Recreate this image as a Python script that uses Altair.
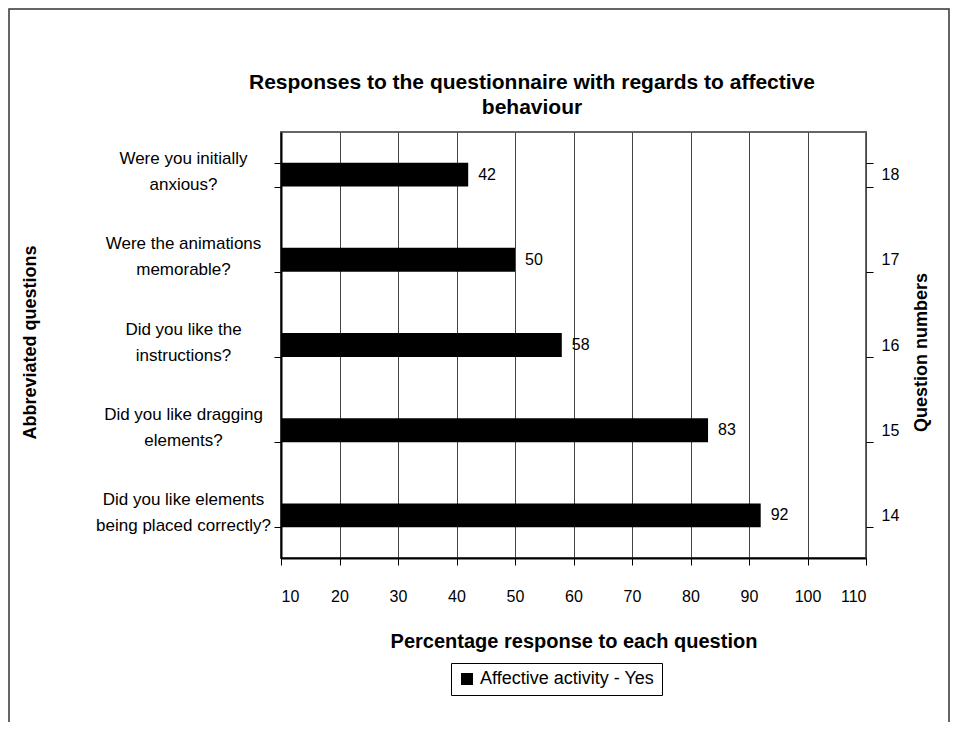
import json
import altair as alt
import pandas as pd

# ---- data ----
title_lines = ["Responses to the questionnaire with regards to affective", "behaviour"]
question_numbers = [18, 17, 16, 15, 14]
question_labels = [
    ["Were you initially", "anxious?"],
    ["Were the animations", "memorable?"],
    ["Did you like the", "instructions?"],
    ["Did you like dragging", "elements?"],
    ["Did you like elements", "being placed correctly?"],
]
percent_yes = [42, 50, 58, 83, 92]
series_name = "Affective activity - Yes"
x_ticks = [10, 20, 30, 40, 50, 60, 70, 80, 90, 100, 110]

FONT = "Liberation Sans"
W, H = 585, 426

df = pd.DataFrame({
    "qnum": question_numbers,
    "value": percent_yes,
    "series": [series_name] * len(percent_yes),
})

label_expr = " : ".join(
    f"datum.value == {n} ? {json.dumps(lines)}" for n, lines in zip(question_numbers, question_labels)
) + " : ''"

y_scale = alt.Scale(domain=question_numbers, paddingInner=0.72, paddingOuter=0.36)
x_scale = alt.Scale(domain=[10, 110], nice=False, zero=False)

bars = alt.Chart(df).mark_bar(color="black").encode(
    x=alt.X("value:Q", scale=x_scale,
            axis=alt.Axis(values=x_ticks, title="Percentage response to each question",
                          grid=True, gridColor="#444", gridWidth=1,
                          domainColor="black", domainWidth=2, tickColor="black", tickSize=7,
                          labelFont=FONT, labelFontSize=16, labelPadding=23, labelColor="black",
                          titleFont=FONT, titleFontSize=20, titleFontWeight="bold", titleColor="black",
                          titleX=W / 2, titleY=83, titleBaseline="middle", titleAlign="center")),
    x2=alt.datum(10),
    y=alt.Y("qnum:O", scale=y_scale, sort=question_numbers,
            axis=alt.Axis(orient="left", tickBand="extent", tickSize=7, tickColor="black",
                          domainColor="black", domainWidth=2,
                          labelExpr=label_expr, labelAlign="center", labelBaseline="middle",
                          labelPadding=91, labelLineHeight=26, labelOffset=-16, labelLimit=400,
                          labelFont=FONT, labelFontSize=17, labelColor="black",
                          title="Abbreviated questions", titleFont=FONT, titleFontSize=18,
                          titleFontWeight="bold", titleColor="black", titleAngle=270,
                          titleX=-251, titleY=210, titleAlign="center", titleBaseline="middle")),
    color=alt.Color("series:N", scale=alt.Scale(domain=[series_name], range=["black"]),
                    legend=alt.Legend(orient="none", legendX=170, legendY=531, title=None,
                                      strokeColor="black", padding=7, symbolType="square",
                                      symbolSize=144, symbolStrokeWidth=0, labelLimit=400,
                                      labelFont=FONT, labelFontSize=18, labelColor="black")),
)

labels = alt.Chart(df).mark_text(align="left", baseline="middle", dx=10, font=FONT,
                                 fontSize=16, color="black").encode(
    x=alt.X("value:Q", scale=x_scale),
    y=alt.Y("qnum:O", scale=y_scale, sort=question_numbers,
            axis=alt.Axis(orient="right", tickBand="extent", tickSize=7, tickColor="black",
                          domain=False, labelPadding=8,
                          labelFont=FONT, labelFontSize=16, labelColor="black",
                          title="Question numbers", titleFont=FONT, titleFontSize=18,
                          titleFontWeight="bold", titleColor="black", titleAngle=270,
                          titleX=55, titleY=220, titleAlign="center", titleBaseline="middle")),
    text="value:Q",
)

title_df = pd.DataFrame({"k": [0]})
title = alt.Chart(title_df).mark_text(align="center", baseline="middle", font=FONT,
                                      fontSize=21, fontWeight="bold", lineHeight=25,
                                      color="black").encode(
    x=alt.value(251), y=alt.value(-49), text=alt.value(title_lines))

frame = alt.Chart(title_df).mark_rect(fillOpacity=0, stroke="#333", strokeWidth=1.5).encode(
    x=alt.value(-272), x2=alt.value(668), y=alt.value(-123), y2=alt.value(610))

chart = alt.layer(frame, bars, labels, title).resolve_axis(y="independent").properties(
    width=W, height=H,
    autosize=alt.AutoSizeParams(type="none"),
    padding={"left": 273, "top": 124, "right": 85, "bottom": 164},
    background="white",
).configure_view(stroke="#666", strokeWidth=2)

chart.save("out.html", embed_options={"renderer": "svg", "actions": False})
